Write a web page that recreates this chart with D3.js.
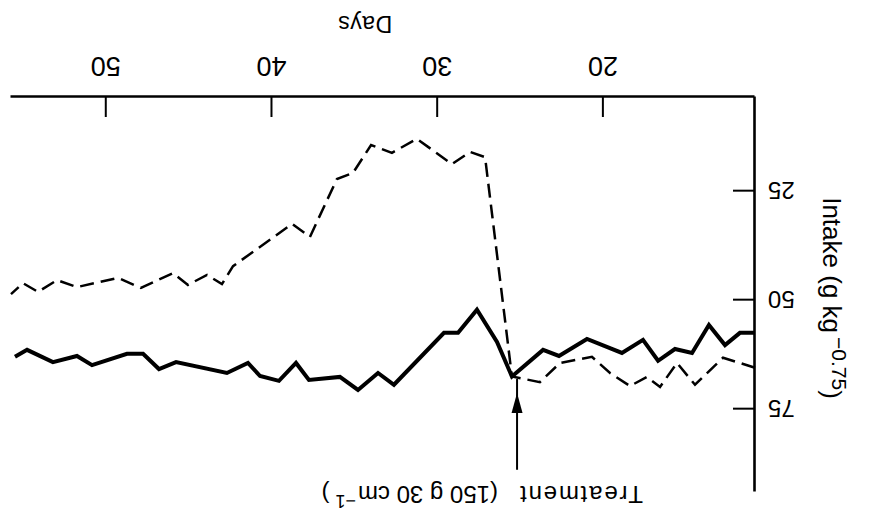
<!DOCTYPE html>
<html>
<head>
<meta charset="utf-8">
<script src="https://cdn.jsdelivr.net/npm/d3@7/dist/d3.min.js"></script>
<style>
  html, body { margin: 0; padding: 0; background: #fff; }
  svg { display: block; }
  text { font-family: "Liberation Sans", Arial, Helvetica, sans-serif; fill: #000; }
</style>
</head>
<body>
<svg id="chart" width="869" height="518"></svg>
<script>
// Daily intake (g kg^-0.75) of two groups over the trial period.
// Solid: control; dashed: group receiving treatment from day ~25.5.
const solidDays = [10.85, 11.76, 12.66, 13.63, 14.65, 15.68, 16.70, 17.61, 18.88, 20.99,
  22.68, 23.64, 25.52, 26.42, 27.63, 28.77, 29.62, 32.64, 33.60, 34.81, 35.90, 37.77,
  38.55, 39.58, 40.72, 41.45, 42.72, 45.79, 46.82, 47.78, 48.75, 50.86, 51.77, 53.22,
  54.78, 55.51];
const solidIntake = [57.5, 57.5, 60.3, 55.7, 62.1, 61.2, 63.9, 59.1, 62.1, 58.9,
  62.8, 61.4, 67.5, 59.6, 52.2, 57.5, 57.5, 69.4, 66.7, 70.6, 67.6, 68.3,
  64.4, 68.5, 67.4, 64.4, 66.7, 64.2, 65.8, 62.3, 62.3, 64.9, 62.8, 64.2,
  61.4, 63.0];

const dashedDays = [10.85, 12.78, 14.47, 15.56, 16.58, 17.37, 18.39, 19.60, 20.69, 22.62,
  23.83, 25.52, 27.14, 28.05, 29.14, 31.25, 32.76, 34.02, 35.11, 36.08, 37.71, 38.79,
  42.35, 43.02, 43.92, 45.07, 45.97, 47.91, 49.29, 51.77, 52.97, 54.12, 55.03, 55.75];
const dashedIntake = [65.5, 63.2, 69.4, 64.4, 69.9, 67.6, 69.7, 66.7, 63.0, 64.4,
  68.8, 67.5, 17.2, 16.0, 18.8, 13.0, 16.2, 14.4, 20.8, 22.2, 35.5, 32.5,
  42.2, 46.3, 44.2, 46.5, 43.8, 47.2, 44.9, 47.0, 45.4, 48.1, 46.1, 48.6];

const dayTicks = [20, 30, 40, 50];
const intakeTicks = [25, 50, 75];

// Treatment marker: day, arrow head and tail (intake units)
const treatmentDay = [25.21];
const treatmentArrow = [71.3, 88.9];

const W = 869, H = 518;
const svg = d3.select("#chart");

// The figure is printed turned half a revolution; build it upright, then rotate.
const g = svg.append("g").attr("transform", `rotate(180 ${W / 2} ${H / 2})`);

const x = d3.scaleLinear().domain([10.85, 55.75]).range([114, 858]);
const y = d3.scaleLinear().domain([3.4, 94]).range([421, 26]);

// X axis (days)
const xAxis = g.append("g")
  .attr("transform", `translate(0,${y(3.4)})`)
  .call(d3.axisBottom(x).tickValues(dayTicks).tickSizeInner(-20).tickSizeOuter(0).tickFormat(d3.format("d")));
xAxis.select(".domain").attr("stroke", "#000").attr("stroke-width", 2.6);
xAxis.selectAll(".tick line").attr("stroke", "#000").attr("stroke-width", 2);
xAxis.selectAll(".tick text")
  .attr("y", 40).attr("dy", 0)
  .style("font-size", "27px").style("font-family", '"Liberation Sans", Arial, sans-serif').attr("fill", "#000");

// Y axis (intake)
const yAxis = g.append("g")
  .attr("transform", `translate(${x(10.85)},0)`)
  .call(d3.axisLeft(y).tickValues(intakeTicks).tickSizeInner(-22).tickSizeOuter(0).tickFormat(d3.format("d")));
yAxis.select(".domain").attr("stroke", "#000").attr("stroke-width", 2.6);
yAxis.selectAll(".tick line").attr("stroke", "#000").attr("stroke-width", 2);
yAxis.selectAll(".tick text")
  .attr("x", -13).attr("dy", "0.36em")
  .style("font-size", "24px").style("font-family", '"Liberation Sans", Arial, sans-serif').attr("fill", "#000");

// Axis titles
g.append("text")
  .attr("x", 504).attr("y", 502)
  .attr("text-anchor", "middle")
  .style("font-size", "23px").style("letter-spacing", "0.5px")
  .text("Days");

const yTitle = g.append("text")
  .attr("transform", "translate(46,220) rotate(-90)")
  .attr("text-anchor", "middle")
  .style("font-size", "26px");
yTitle.append("tspan").text("Intake (g kg");
yTitle.append("tspan").attr("dx", 4).attr("dy", -9).style("font-size", "21px").text("\u22120.75");
yTitle.append("tspan").attr("dy", 9).text(")");

// Series
const line = d3.line().x(d => x(d[0])).y(d => y(d[1]));

g.append("path")
  .datum(dashedDays.map((d, i) => [d, dashedIntake[i]]))
  .attr("d", line)
  .attr("fill", "none").attr("stroke", "#000")
  .attr("stroke-width", 2.5)
  .attr("stroke-dasharray", "14,7");

g.append("path")
  .datum(solidDays.map((d, i) => [d, solidIntake[i]]))
  .attr("d", line)
  .attr("fill", "none").attr("stroke", "#000")
  .attr("stroke-width", 4)
  .attr("stroke-linejoin", "miter");

// Treatment arrow and label
const ax = x(treatmentDay[0]);
const headY = y(treatmentArrow[0]);
const tailY = y(treatmentArrow[1]);
g.append("line")
  .attr("x1", ax).attr("x2", ax)
  .attr("y1", tailY).attr("y2", headY + 14)
  .attr("stroke", "#000").attr("stroke-width", 2);
g.append("path")
  .attr("d", `M${ax},${headY} L${ax - 5.5},${headY - 20} L${ax + 5.5},${headY - 20} Z`)
  .attr("fill", "#000");

const tLabel = g.append("text")
  .attr("y", 32)
  .style("font-size", "24px");
tLabel.append("tspan").attr("x", 226).style("letter-spacing", "1.8px").text("Treatment");
tLabel.append("tspan").attr("x", 371).text("(150 g 30 cm");
tLabel.append("tspan").attr("dx", 2).attr("dy", -9).style("font-size", "18px").text("\u22121");
tLabel.append("tspan").attr("dx", 6).attr("dy", 9).text(")");
</script>
</body>
</html>
